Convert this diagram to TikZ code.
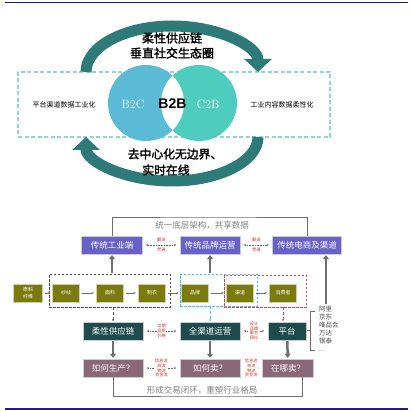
\documentclass[tikz,border=0pt]{standalone}
\usepackage{fontspec}
\newfontfamily\cjk{Noto Sans CJK SC}
\newfontfamily\cjkbold[FakeBold=2]{Noto Sans CJK SC}
\newfontfamily\arial{Liberation Sans}
\usetikzlibrary{arrows.meta,positioning}
\definecolor{navyline}{HTML}{1F1A8A}
\definecolor{arcteal}{HTML}{2E7A78}
\definecolor{dashcyan}{HTML}{8ED6D6}
\definecolor{bcyan}{HTML}{5BBAD5}
\definecolor{cgreen}{HTML}{4ECCBE}
\definecolor{purp}{HTML}{6861C6}
\definecolor{darkteal}{HTML}{1E4C4D}
\definecolor{mauve}{HTML}{8B6878}
\definecolor{olivebox}{HTML}{7A7A0E}
\definecolor{lblred}{HTML}{C0392B}
\definecolor{barg}{HTML}{6E6E6E}
\definecolor{grpcyan}{HTML}{45C1E0}
\definecolor{grpred}{HTML}{D0474F}

\begin{document}
\begin{tikzpicture}[x=1pt, y=-1pt, every node/.style={font=\cjk, inner sep=0pt},
  purbox/.style={draw=gray!40, fill=purp, text=white, minimum height=18, font=\cjk\fontsize{8.5}{10}\selectfont},
  tealbox/.style={draw=gray!40, fill=darkteal, text=white, minimum height=18, font=\cjk\fontsize{8.5}{10}\selectfont},
  mauvebox/.style={draw=gray!40, fill=mauve, text=white, minimum height=18, font=\cjk\fontsize{8.5}{10}\selectfont},
  olbox/.style={draw=olivebox!35, fill=olivebox, text=white, minimum width=27, minimum height=18, align=center, font=\cjk\fontsize{5}{6.5}\selectfont},
  grpbox/.style={dashed, line width=0.8, dash pattern=on 2.5pt off 1.5pt},
  redlbl/.style={text=lblred, align=center, font=\cjk\fontsize{4.2}{4.8}\selectfont},
  graytxt/.style={text=gray, font=\cjk\fontsize{8.5}{10}\selectfont},
  bararr/.style={barg, line width=2.5, -{Triangle[width=6pt,length=4pt]}, shorten <=1pt, shorten >=1pt},
  dotarr/.style={densely dotted, gray!80!black, line width=0.6, {Latex[length=2.5pt]}-{Latex[length=2.5pt]}, shorten <=3pt, shorten >=3pt},
  dasharr/.style={densely dashed, line width=0.7, -{Latex[length=2.5pt]}},
  olarr/.style={barg, line width=0.7, -{Latex[length=2.5pt]}, shorten <=2pt, shorten >=2pt},
  brk/.style={barg, line width=1}]
\useasboundingbox (0,0) rectangle (411,411);
\draw[navyline, line width=1.5] (5,2.5) -- (408,2.5);
\draw[navyline, line width=1.5] (5,409) -- (408,409);

% circles and outer frame
\node[draw=dashcyan, grpbox, line width=1.1, dash pattern=on 4pt off 2.5pt, minimum width=312, minimum height=65] (frame) at (174,104.5) {};
\node[circle, fill=bcyan, minimum size=76] (b2c) at (146,103) {};
\node[circle, fill=cgreen, minimum size=76] (c2b) at (199,103) {};
\begin{scope}
  \clip (146,103) circle[radius=38];
  \fill[white] (199,103) circle[radius=38];
\end{scope}
\node[text=white, font=\rmfamily\fontsize{12}{14}\selectfont] at (133,104) {B2C};
\node[text=white, font=\rmfamily\fontsize{12}{14}\selectfont] at (208,104) {C2B};
\node[font=\arial\bfseries\fontsize{14}{16}\selectfont] (b2b) at (172.5,104) {B2B};
\node[font=\cjk\fontsize{7}{8}\selectfont] (leftlbl) at (64,105) {平台渠道数据工业化};
\node[font=\cjk\fontsize{7}{8}\selectfont] (rightlbl) at (282,105) {工业内容数据柔性化};

% arcs
\draw[arcteal, line width=11, -{Triangle[width=27pt,length=13pt]}] (86,72) arc[start angle=180, end angle=360, x radius=86, y radius=46];
\draw[arcteal, line width=11, -{Triangle[width=27pt,length=13pt]}] (258,137) arc[start angle=0, end angle=180, x radius=86, y radius=44];
\node[font=\cjkbold\fontsize{12}{14}\selectfont] (top1) at (172,38) {柔性供应链};
\node[font=\cjkbold\fontsize{12}{14}\selectfont] (top2) at (172,53) {垂直社交生态圈};
\node[font=\cjkbold\fontsize{11.8}{14}\selectfont] (bot1) at (175,154) {去中心化无边界、};
\node[font=\cjkbold\fontsize{11.8}{14}\selectfont] (bot2) at (166,170) {实时在线};

% lower chart
\node[purbox, minimum width=61] (tradind) at (112,245) {传统工业端};
\node[purbox, minimum width=60] (tradbrand) at (210,245) {传统品牌运营};
\node[purbox, minimum width=69] (tradecom) at (307,245) {传统电商及渠道};

\node[draw=black!70, grpbox, minimum width=121, minimum height=33] (grpind) at (109.5,290.5) {};
\node[draw=grpcyan, grpbox, minimum width=77, minimum height=32] (grpbrand) at (218.5,290) {};
\node[draw=grpred, grpbox, minimum width=82, minimum height=32] (grpchan) at (265,291) {};

\node[olbox, minimum width=29] (raw) at (28,293) {原料\\纤维};
\node[olbox] (yarn) at (66,293) {纱线};
\node[olbox] (fabric) at (110,293) {面料};
\node[olbox] (garment) at (152,293) {制衣};
\node[olbox] (brand) at (195,293) {品牌};
\node[olbox] (channel) at (240,293) {渠道};
\node[olbox] (consumer) at (283,293) {消费者};
\draw[olarr] (raw) -- (yarn);
\draw[olarr] (yarn) -- (fabric);
\draw[olarr] (fabric) -- (garment);
\draw[olarr] (garment) -- (brand);
\draw[olarr] (brand) -- (channel);
\draw[olarr] (channel) -- (consumer);

\node[tealbox, minimum width=60] (flex) at (113,331) {柔性供应链};
\node[tealbox, minimum width=60] (omni) at (210,331) {全渠道运营};
\node[tealbox, minimum width=38] (platf) at (287,331) {平台};
\node[mauvebox, minimum width=60] (howmake) at (113,368) {如何生产？};
\node[mauvebox, minimum width=60] (howsell) at (210,368) {如何卖？};
\node[mauvebox, minimum width=51] (wheresell) at (288,368) {在哪卖？};

\draw[dotarr] (tradind) -- node[redlbl, above=2.5pt] {翻译} node[redlbl, below=2.5pt] {贯通} (tradbrand);
\draw[dotarr] (tradbrand) -- node[redlbl, above=2.5pt] {翻译} node[redlbl, below=2.5pt] {贯通} (tradecom);
\draw[dotarr] (flex) -- node[redlbl, fill=white, inner sep=0.5pt] {交期\\品质\\价格} (omni);
\draw[dotarr] (omni) -- node[redlbl, fill=white, inner sep=0.5pt] {设计\\品牌\\聚合\\网红} (platf);
\draw[dotarr] (howmake) -- node[redlbl, fill=white, inner sep=0.5pt] {信息流\\商流\\物流\\资金流} (howsell);
\draw[dotarr] (howsell) -- node[redlbl, fill=white, inner sep=0.5pt] {信息流\\商流\\物流\\资金流} (wheresell);

\draw[bararr] (tradind.south |- grpind.north) -- (tradind.south);
\draw[bararr] (tradbrand.south |- grpbrand.north) -- (tradbrand.south);
\coordinate (listtop) at (326,305);
\draw[bararr] (listtop) -- (listtop |- tradecom.south);
\draw[bararr] (flex) -- (howmake);
\draw[bararr] (omni) -- (howsell);
\draw[bararr] (platf) -- (wheresell);

\draw[dasharr, black!70] (flex.north |- grpind.south) -- (flex.north);
\draw[dasharr, grpcyan] (omni.north |- grpbrand.south) -- (omni.north);
\draw[dasharr, grpred] ([xshift=-4pt]platf.north |- grpchan.south) -- ([xshift=-4pt]platf.north);

\coordinate (topbar) at (207,217);
\draw[brk] (tradind.north) |- (topbar) -| (tradecom.north);
\node[graytxt] (toptxt) at (202,225) {统一底层架构，共享数据};
\coordinate (botbar) at (207,396);
\draw[brk] (howmake.south) |- (botbar) -| ([xshift=14pt]wheresell.south);
\node[graytxt] (bottxt) at (202,390) {形成交易闭环，重塑行业格局};

% shop list
\draw[barg, line width=0.7] (315,311) -- (310,311) -- (310,350) -- (315,350);
\draw[barg, line width=0.7] (310,330) -- (307,330);
\node[anchor=north west, align=left, text=black!70, font=\cjk\fontsize{6.5}{8}\selectfont] (shops) at (319,306) {阿里\\京东\\唯品会\\万达\\银泰\\...};
\end{tikzpicture}
\end{document}
